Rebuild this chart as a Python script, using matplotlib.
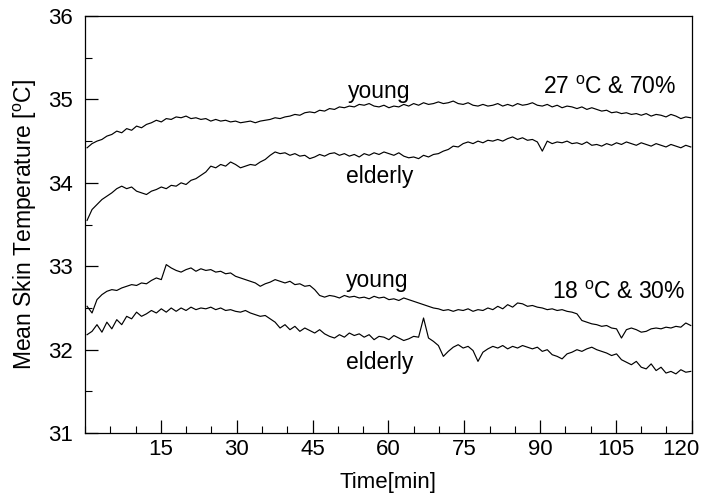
import numpy as np
import matplotlib
matplotlib.use('Agg')
import matplotlib.pyplot as plt
import matplotlib.transforms as mtransforms
from matplotlib.ticker import MultipleLocator

plt.rcParams['font.family'] = ['Liberation Sans', 'DejaVu Sans']
plt.rcParams['mathtext.fontset'] = 'custom'
plt.rcParams['mathtext.rm'] = 'Liberation Sans'

# -------------------------------------------------------------------------
# data (one sample per ~1 min)

time = np.linspace(0.4, 119.8, 123)

young_27 = [
    34.42, 34.47, 34.50, 34.52, 34.56, 34.58, 34.62, 34.60, 34.65, 34.63,
    34.68, 34.66, 34.70, 34.72, 34.75, 34.73, 34.77, 34.76, 34.79, 34.78,
    34.80, 34.77, 34.78, 34.76, 34.77, 34.74, 34.76, 34.74, 34.75, 34.73,
    34.74, 34.72, 34.73, 34.74, 34.72, 34.74, 34.75, 34.76, 34.78, 34.77,
    34.79, 34.80, 34.82, 34.81, 34.84, 34.85, 34.84, 34.87, 34.86, 34.89,
    34.88, 34.91, 34.90, 34.92, 34.91, 34.94, 34.93, 34.95, 34.92, 34.91,
    34.93, 34.90, 34.92, 34.91, 34.94, 34.92, 34.95, 34.93, 34.96, 34.94,
    34.95, 34.97, 34.95, 34.96, 34.98, 34.95, 34.94, 34.96, 34.93, 34.92,
    34.94, 34.92, 34.93, 34.95, 34.92, 34.94, 34.92, 34.95, 34.93, 34.94,
    34.96, 34.93, 34.92, 34.94, 34.91, 34.93, 34.90, 34.92, 34.91, 34.89,
    34.91, 34.88, 34.90, 34.88, 34.86, 34.87, 34.84, 34.85, 34.83, 34.84,
    34.82, 34.83, 34.81, 34.83, 34.80, 34.82, 34.81, 34.79, 34.82, 34.80,
    34.77, 34.79, 34.78]

elderly_27 = [
    33.55, 33.68, 33.74, 33.80, 33.84, 33.88, 33.93, 33.96, 33.93, 33.95,
    33.90, 33.88, 33.86, 33.90, 33.92, 33.95, 33.93, 33.97, 33.96, 34.00,
    33.98, 34.03, 34.05, 34.09, 34.13, 34.20, 34.18, 34.22, 34.20, 34.25,
    34.22, 34.18, 34.20, 34.22, 34.21, 34.25, 34.28, 34.33, 34.37, 34.35,
    34.36, 34.33, 34.35, 34.32, 34.33, 34.29, 34.31, 34.34, 34.32, 34.35,
    34.36, 34.33, 34.35, 34.32, 34.34, 34.31, 34.35, 34.33, 34.36, 34.34,
    34.37, 34.35, 34.33, 34.36, 34.32, 34.30, 34.31, 34.29, 34.33, 34.31,
    34.34, 34.35, 34.38, 34.40, 34.44, 34.43, 34.47, 34.49, 34.47, 34.50,
    34.48, 34.51, 34.50, 34.52, 34.50, 34.53, 34.55, 34.52, 34.54, 34.51,
    34.52, 34.49, 34.38, 34.50, 34.47, 34.49, 34.48, 34.50, 34.47, 34.48,
    34.46, 34.49, 34.45, 34.46, 34.44, 34.47, 34.45, 34.48, 34.46, 34.49,
    34.47, 34.45, 34.48, 34.46, 34.44, 34.47, 34.45, 34.43, 34.46, 34.44,
    34.42, 34.45, 34.43]

young_18 = [
    32.52, 32.44, 32.60, 32.66, 32.70, 32.72, 32.71, 32.74, 32.76, 32.78,
    32.77, 32.80, 32.79, 32.83, 32.86, 32.84, 33.02, 32.98, 32.95, 32.93,
    32.96, 32.98, 32.94, 32.97, 32.95, 32.96, 32.93, 32.94, 32.91, 32.92,
    32.88, 32.86, 32.84, 32.82, 32.80, 32.76, 32.79, 32.81, 32.84, 32.82,
    32.80, 32.82, 32.78, 32.79, 32.76, 32.77, 32.72, 32.65, 32.63, 32.65,
    32.64, 32.62, 32.65, 32.63, 32.64, 32.62, 32.63, 32.61, 32.64, 32.62,
    32.63, 32.60, 32.61, 32.59, 32.62, 32.60, 32.58, 32.56, 32.54, 32.52,
    32.50, 32.49, 32.47, 32.48, 32.46, 32.48, 32.47, 32.49, 32.46, 32.48,
    32.47, 32.50, 32.48, 32.52, 32.49, 32.54, 32.51, 32.56, 32.55, 32.52,
    32.53, 32.51, 32.50, 32.48, 32.49, 32.47, 32.48, 32.46, 32.45, 32.43,
    32.35, 32.33, 32.31, 32.30, 32.28, 32.29, 32.26, 32.25, 32.14, 32.24,
    32.26, 32.24, 32.21, 32.22, 32.25, 32.26, 32.25, 32.27, 32.26, 32.28,
    32.27, 32.32, 32.29]

elderly_18 = [
    32.18, 32.22, 32.30, 32.21, 32.33, 32.25, 32.36, 32.30, 32.40, 32.37,
    32.45, 32.40, 32.43, 32.47, 32.44, 32.49, 32.45, 32.50, 32.46, 32.50,
    32.47, 32.51, 32.48, 32.50, 32.49, 32.51, 32.48, 32.50, 32.47, 32.48,
    32.46, 32.45, 32.47, 32.44, 32.42, 32.40, 32.41, 32.37, 32.33, 32.26,
    32.30, 32.24, 32.28, 32.22, 32.26, 32.23, 32.20, 32.24, 32.19, 32.16,
    32.14, 32.18, 32.15, 32.20, 32.17, 32.19, 32.15, 32.18, 32.12, 32.16,
    32.15, 32.12, 32.17, 32.14, 32.11, 32.13, 32.16, 32.15, 32.38, 32.14,
    32.10, 32.05, 31.92, 31.98, 32.03, 32.06, 32.02, 32.04, 31.99, 31.86,
    31.97, 32.01, 32.04, 32.02, 32.05, 32.01, 32.04, 32.02, 32.05, 32.03,
    32.01, 32.03, 31.98, 32.00, 31.94, 31.92, 31.89, 31.95, 31.97, 32.00,
    31.98, 32.01, 32.03, 32.00, 31.98, 31.96, 31.93, 31.95, 31.88, 31.85,
    31.82, 31.86, 31.79, 31.77, 31.83, 31.75, 31.79, 31.72, 31.74, 31.71,
    31.76, 31.73, 31.74]

x_ticks = [15, 30, 45, 60, 75, 90, 105, 120]
y_ticks = [31, 32, 33, 34, 35, 36]

# -------------------------------------------------------------------------

fig = plt.figure(figsize=(7.03, 4.99), dpi=100)
ax = fig.add_axes([0.121, 0.132, 0.863, 0.836])

for series in [young_27, elderly_27, young_18, elderly_18]:
    ax.plot(time, series, color='k', lw=0.85)

ax.text(58.1, 35.09, 'young', fontsize=16.5, ha='center', va='center')
ax.text(58.2, 34.07, 'elderly', fontsize=16.5, ha='center', va='center')
ax.text(57.7, 32.83, 'young', fontsize=16.5, ha='center', va='center')
ax.text(58.2, 31.85, 'elderly', fontsize=16.5, ha='center', va='center')
ax.text(90.6, 35.14, '27 $^{\\mathrm{o}}$C & 70%', fontsize=16.5, ha='left', va='center')
ax.text(92.4, 32.68, '18 $^{\\mathrm{o}}$C & 30%', fontsize=16.5, ha='left', va='center')

ax.set_xlim(0, 120)
ax.set_ylim(31, 36)
ax.set_xticks(x_ticks)
ax.set_yticks(y_ticks)
ax.xaxis.set_minor_locator(MultipleLocator(5))
ax.yaxis.set_minor_locator(MultipleLocator(0.5))
ax.tick_params(which='both', direction='in', top=False, right=False)
ax.tick_params(which='major', length=9.4, width=0.9, labelsize=16)
ax.tick_params(which='minor', length=4.8, width=0.8)
ax.tick_params(axis='y', pad=9)
ax.tick_params(axis='x', pad=4)

# the last x label sits a little left of the frame edge
lbl = ax.get_xticklabels()[-1]
lbl.set_transform(lbl.get_transform() + mtransforms.ScaledTranslation(-11/100., 0, fig.dpi_scale_trans))

for s in ax.spines.values():
    s.set_linewidth(0.9)

ax.set_xlabel('Time[min]', fontsize=16, labelpad=9)
ax.set_ylabel('Mean Skin Temperature [$^{\\mathrm{o}}$C]', fontsize=16.5, labelpad=6)

fig.savefig('out.png', dpi=100)
